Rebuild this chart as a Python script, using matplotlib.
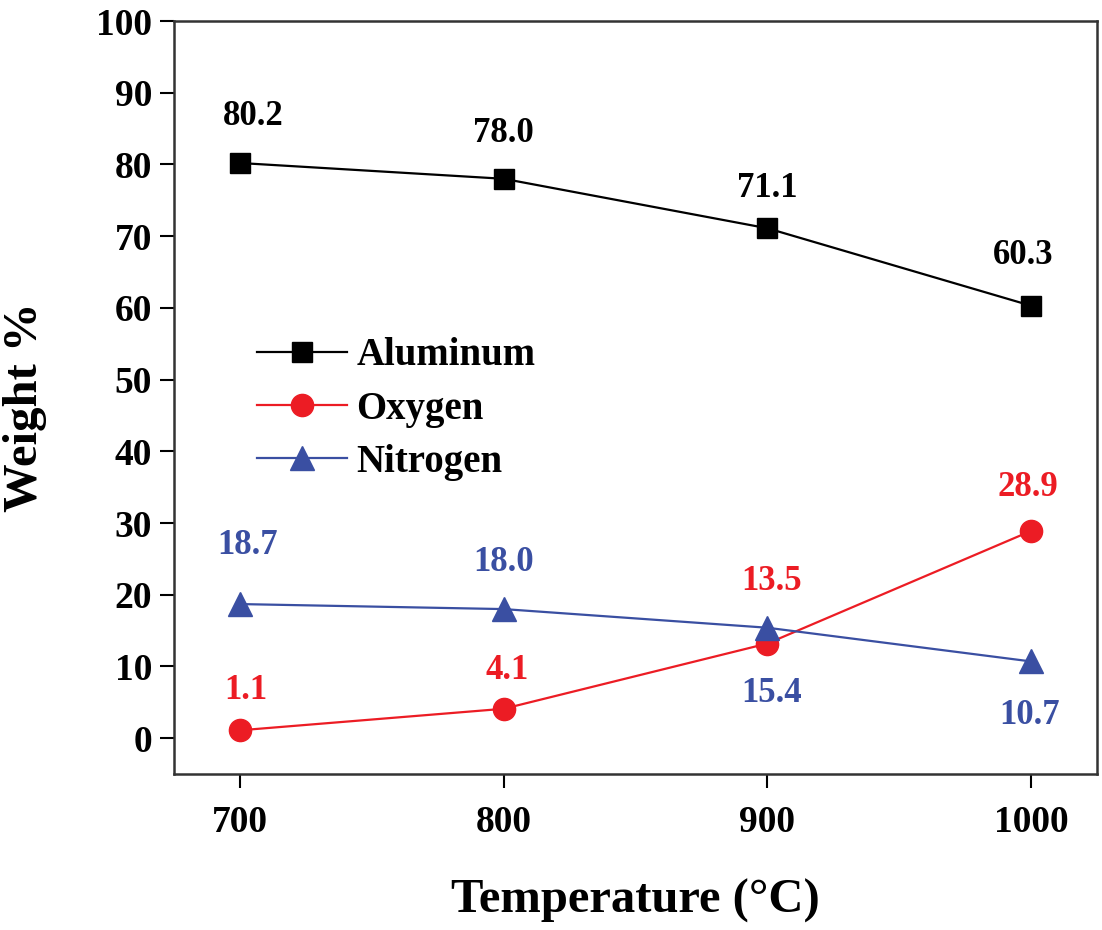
import matplotlib
matplotlib.use("Agg")
import matplotlib.pyplot as plt

temperature = [700, 800, 900, 1000]
aluminum = [80.2, 78.0, 71.1, 60.3]
oxygen = [1.1, 4.1, 13.5, 28.9]
nitrogen = [18.7, 18.0, 15.4, 10.7]

# value label text, the plotted value is used for position
oxygen_plot = [1.1, 4.1, 13.2, 28.9]

plt.rcParams['font.family'] = ['Liberation Serif', 'DejaVu Serif']
plt.rcParams['font.weight'] = 'bold'

red = '#ec1c24'
blue = '#3a4fa2'

fig = plt.figure(figsize=(11.02, 9.30), dpi=100)
ax = fig.add_axes([0.158, 0.1677, 0.8375, 0.8097])

ax.plot(temperature, aluminum, color='black', lw=1.6, marker='s', ms=14, label='Aluminum')
ax.plot(temperature, oxygen_plot, color=red, lw=1.6, marker='o', ms=16, label='Oxygen')
ax.plot(temperature, nitrogen, color=blue, lw=1.6, marker='^', ms=17, label='Nitrogen')

# label offsets in pixels
al_off = [(13, 47), (0, 45), (0, 40), (-8, 50)]
ox_off = [(6, 40), (3, 38), (4, 62), (-3, 43)]
ni_off = [(8, 59), (0, 47), (4, -66), (-2, -54)]

for vals, pos, offs, col in [(aluminum, aluminum, al_off, 'black'),
                             (oxygen, oxygen_plot, ox_off, red),
                             (nitrogen, nitrogen, ni_off, blue)]:
    for t, v, p, off in zip(temperature, vals, pos, offs):
        ax.annotate(f"{v:.1f}", (t, p), xytext=off, textcoords='offset pixels',
                    ha='center', va='center', fontsize=25, fontweight='bold', color=col)

ax.set_xlim(675, 1025)
ax.set_ylim(-5, 100)
ax.set_xticks(temperature)
ax.set_yticks(range(0, 101, 10))
ax.tick_params(axis='both', direction='out', length=10, width=1.5, labelsize=27)
ax.tick_params(axis='x', pad=12)
ax.tick_params(axis='y', pad=6)
for s in ax.spines.values():
    s.set_linewidth(1.8)
    s.set_color('#333333')

ax.set_xlabel("Temperature (°C)", fontsize=35, fontweight='bold', labelpad=28)
ax.set_ylabel("Weight %", fontsize=35, fontweight='bold')
ax.yaxis.set_label_coords(-0.138, 0.487)

ax.legend(loc='upper left', bbox_to_anchor=(0.09, 0.58), frameon=False,
          fontsize=28, handlelength=2.3, handletextpad=0.25, labelspacing=0.42,
          borderpad=0, borderaxespad=0)

fig.savefig("out.png", dpi=100)
